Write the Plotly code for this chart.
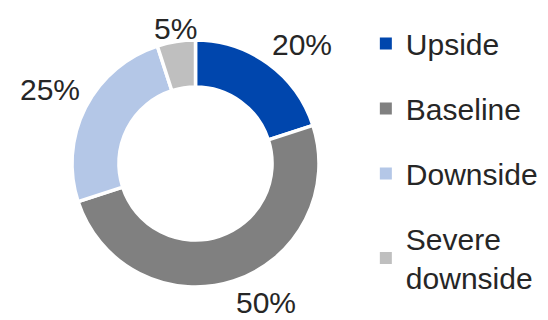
import math
import plotly.graph_objects as go

# Scenario weights
escenarios = ['Upside', 'Baseline', 'Downside', 'Severe<br>downside']
pesos = [20, 50, 25, 5]
colores = ['#0046AD', '#808080', '#B4C7E7', '#BFBFBF']

# Tamaño del lienzo y geometría del donut (px, coordenadas de la figura;
# la página añade un margen de 8 px alrededor)
W, H = 548, 320
cx, cy, R = 187.5, 155.5, 123.5
ALTO_ETIQ = 30

fig = go.Figure()

# Donut
fig.add_trace(go.Pie(
    labels=escenarios, values=pesos, hole=0.62, sort=False,
    direction='clockwise', rotation=0,
    marker=dict(colors=colores, line=dict(color='white', width=3.5)),
    textinfo='none',
    domain=dict(x=[(cx - R) / W, (cx + R) / W], y=[1 - (cy + R) / H, 1 - (cy - R) / H]),
    showlegend=False, hoverinfo='label+percent',
))

# Etiquetas de porcentaje fuera del anillo, en el ángulo medio de cada porción
total = sum(pesos)
acum = 0
for v in pesos:
    ang = 2 * math.pi * (acum + v / 2) / total
    acum += v
    s, c = math.sin(ang), math.cos(ang)
    px = cx + (R + 5) * s
    py = cy - (R + 5) * c
    xa = 'left' if s > 0.3 else 'right' if s < -0.3 else 'center'
    ya = 'bottom' if c > 0.3 else 'top' if c < -0.3 else 'middle'
    # mantener la etiqueta dentro del área visible
    if ya == 'bottom':
        py = max(py, 36)
    if ya == 'top':
        py = min(py, 280)
    fig.add_annotation(x=px / W, y=1 - py / H, xref='paper', yref='paper',
                       text=f'{v}%', showarrow=False, xanchor=xa, yanchor=ya,
                       height=ALTO_ETIQ, borderpad=0,
                       font=dict(size=30, color='#262626'))

# Leyenda (marcadores cuadrados)
for nombre, color in zip(escenarios, colores):
    fig.add_trace(go.Scatter(
        x=[None], y=[None], mode='markers', name=nombre, legendgroup=nombre,
        marker=dict(symbol='square', size=12, color=color),
    ))

fig.update_layout(
    width=W, height=H,
    margin=dict(l=0, r=0, t=0, b=0, autoexpand=False),
    paper_bgcolor='white', plot_bgcolor='white',
    font=dict(family='Liberation Sans, Arial, sans-serif', size=30, color='#262626'),
    xaxis=dict(visible=False), yaxis=dict(visible=False),
    legend=dict(x=0.653, xanchor='left', y=0.97, yanchor='top',
                tracegroupgap=23, font=dict(size=30), itemclick=False),
)

fig.write_html("out.html")
